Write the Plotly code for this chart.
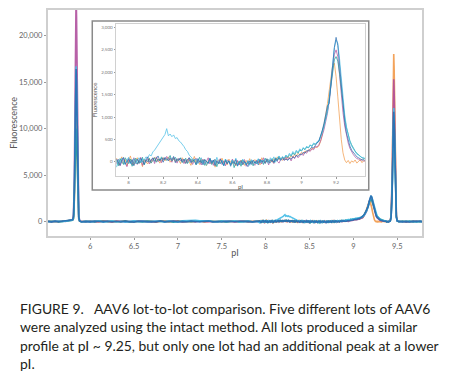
import plotly.graph_objects as go

# ---------------- data ----------------
LOT_NAMES = ["Lot A", "Lot B", "Lot C", "Lot D", "Lot E"]
LOT_COLORS = ["#f29a4a", "#b0509e", "#1a9e9a", "#46bde6", "#2b6cb0"]

# main-plot sampling left of the inset window
X_MAIN_L = [5.52, 5.56, 5.60, 5.64, 5.68, 5.72, 5.76, 5.79,
            5.80, 5.81, 5.815, 5.82, 5.825, 5.83, 5.835, 5.84, 5.845, 5.85, 5.855, 5.86, 5.865, 5.87, 5.88, 5.90,
            5.95, 6.00, 6.05, 6.10, 6.15, 6.20, 6.25, 6.30, 6.35, 6.40, 6.45, 6.50, 6.55, 6.60, 6.65, 6.70,
            6.75, 6.80, 6.85, 6.90, 6.95, 7.00, 7.05, 7.10, 7.15, 7.20, 7.25, 7.30, 7.35, 7.40, 7.45, 7.50,
            7.55, 7.60, 7.65, 7.70, 7.75, 7.80, 7.85, 7.90]

# inset window sampling (also used in the main plot)
X_INSET = [7.93, 7.94, 7.95, 7.96, 7.97, 7.98, 7.99, 8.00, 8.01, 8.02,
           8.03, 8.04, 8.05, 8.06, 8.07, 8.08, 8.09, 8.10, 8.11, 8.12,
           8.13, 8.14, 8.15, 8.16, 8.17, 8.18, 8.19, 8.20, 8.21, 8.22,
           8.23, 8.24, 8.25, 8.26, 8.27, 8.28, 8.29, 8.30, 8.31, 8.32,
           8.33, 8.34, 8.35, 8.36, 8.37, 8.38, 8.39, 8.40, 8.41, 8.42,
           8.43, 8.44, 8.45, 8.46, 8.47, 8.48, 8.49, 8.50, 8.51, 8.52,
           8.53, 8.54, 8.55, 8.56, 8.57, 8.58, 8.59, 8.60, 8.61, 8.62,
           8.63, 8.64, 8.65, 8.66, 8.67, 8.68, 8.69, 8.70, 8.71, 8.72,
           8.73, 8.74, 8.75, 8.76, 8.77, 8.78, 8.79, 8.80, 8.81, 8.82,
           8.83, 8.84, 8.85, 8.86, 8.87, 8.88, 8.89, 8.90, 8.91, 8.92,
           8.93, 8.94, 8.95, 8.96, 8.97, 8.98, 8.99, 9.00, 9.01, 9.02,
           9.03, 9.04, 9.05, 9.06, 9.07, 9.08, 9.09, 9.10, 9.11, 9.12,
           9.13, 9.14, 9.15, 9.16, 9.17, 9.18, 9.19, 9.20, 9.21, 9.22,
           9.23, 9.24, 9.25, 9.26, 9.27, 9.28, 9.29, 9.30, 9.31, 9.32,
           9.33, 9.34, 9.35, 9.36, 9.37]

# main-plot sampling right of the inset window
X_MAIN_R = [9.38, 9.40, 9.42, 9.43, 9.44, 9.445, 9.45, 9.455, 9.46, 9.465, 9.47, 9.475,
            9.48, 9.485, 9.49, 9.50, 9.52, 9.56, 9.60, 9.64, 9.68, 9.72, 9.76, 9.785]

ORANGE_L = [-20, 40, -50, 30, 0, 50, 90, 130,
            170, 330, 880, 2200, 4400, 7150, 9900, 11000, 9900, 7150, 4400, 2200, 880, 330, 40, 10,
            50, -20, 30, -40, 60, 10, -30, 40, -10, 70, -50, 20, 40, -20, 60, 30, -40, 10, 50, -30,
            20, 80, -10, 40, -20, 30, 60, -40, 10, 50, -20, 30, -50, 40, 10, -30, 60, -10, 20, 50]
MAGENTA_L = [30, -40, 20, -20, 50, 10, 120, 150,
             200, 740, 1960, 4900, 9800, 15900, 22000, 24500, 22000, 15900, 9800, 4900, 1960, 740, 100, 30,
             -30, 40, -60, 20, 50, -10, -50, 30, 60, -20, 10, -40, 40, 70, -30, 20, -60, 50, 0, 30,
             -20, 60, -40, 10, 40, -30, 80, -10, 20, -50, 30, 60, -20, 40, -40, 10, 50, -30, 20, -10]
TEAL_L = [40, -10, 30, -40, 20, 30, 100, 120,
          160, 300, 800, 2000, 4000, 6500, 9000, 10000, 9000, 6500, 4000, 2000, 800, 300, 40, -20,
          -10, 30, -40, 50, 20, -20, 40, -30, 10, 60, -50, 30, 0, -40, 50, 20, -20, 40, -10, 30,
          -60, 20, 50, 10, -30, 40, 70, 20, 50, -20, 10, 40, -30, 20, 50, -40, 10, 30, -20, 40]
CYAN_L = [-50, 30, -20, 60, -10, 40, 90, 60,
          150, 500, 1340, 3340, 6680, 10860, 15030, 16700, 15030, 10860, 6680, 3340, 1340, 500, 70, -20,
          40, -30, 20, 60, -50, 10, 50, -20, 30, -60, 20, 70, -10, 40, -40, 30, 60, 0, -30, 50,
          20, -40, 70, 100, 60, 130, 90, 40, 70, 20, -30, 50, -10, 30, 60, -40, 20, 50, -20, 40]
BLUE_L = [20, -30, 50, -10, 30, 60, 140, 110,
          180, 490, 1310, 3280, 6560, 10660, 14760, 16400, 14760, 10660, 6560, 3280, 1310, 490, 70, -40,
          20, -40, 50, 10, -30, 60, -20, 30, -50, 40, 0, -60, 30, 50, -10, -40, 20, 60, -30, 10,
          40, -50, 20, -20, 50, 10, -40, 30, 60, -20, 10, -50, 40, 0, -30, 50, -10, 20, -40, 30]

ORANGE_I = [80, -60, 20, 110, -40, 50, -90, 30, 130, -20,
            -70, 40, 90, -30, 10, -110, 60, 0, -50, 80,
            -20, 50, 100, 10, 70, -30, 40, 90, 20, 60,
            110, -10, 50, 80, 0, 60, 30, -40, 90, 20,
            -30, 60, 10, -80, 40, 120, -20, 30, -60, 70,
            -10, 50, -90, 20, 60, -40, 30, -120, 10, 40,
            -50, 80, -30, 20, -70, 60, -10, -40, 30, -90,
            10, -60, 40, -20, -80, 30, -50, 70, -30, 0,
            50, -40, 20, -70, 90, 10, -30, 60, -20, 40,
            -10, 70, 20, 110, 50, 80, 30, 90, 40, 120,
            70, 140, 100, 160, 130, 190, 150, 210, 180, 240,
            220, 270, 250, 300, 290, 330, 320, 350, 450, 600,
            800, 1050, 1300, 1600, 1950, 2150, 2200, 1900, 1450, 950,
            500, 200, 40, -20, 30, -40, 20, -10, 40, -30,
            10, 50, -20, 30, 0]
MAGENTA_I = [-40, 60, -90, 20, 80, -30, -110, 50, 10, -70,
             90, -20, -60, 40, 100, -80, 30, -10, 70, -50,
             20, 80, -40, 110, 0, 60, -20, 90, 40, 120,
             30, 70, -10, 100, 50, -30, 80, 20, 60, -40,
             50, -20, 90, 10, -60, 40, 80, -30, 20, -70,
             60, -40, 10, 90, -50, 30, -80, 50, 0, -30,
             70, -60, 20, -90, 40, 10, -50, 60, -20, -80,
             30, -70, 0, -40, 50, -100, 20, -60, 10, -30,
             -80, 40, -20, 60, -50, 90, -10, 30, -70, 50,
             20, -40, 80, 10, -30, 60, 100, 30, 110, 40,
             90, 20, 120, 70, 150, 90, 130, 180, 140, 220,
             190, 260, 230, 290, 270, 340, 330, 380, 460, 580,
             720, 900, 1080, 1350, 1720, 2100, 2400, 2500, 2350, 1950,
             1500, 1100, 800, 580, 420, 300, 220, 160, 110, 70,
             60, 30, 50, 10, 30]
TEAL_I = [30, -90, 70, -10, -60, 90, 20, -40, 60, -100,
          10, 80, -50, 30, -20, 100, -70, 50, 0, 70,
          -30, 40, 90, -10, 60, 20, 110, 50, 80, 30,
          70, 140, 20, 60, 100, 10, 50, 90, -20, 40,
          80, -40, 30, 70, -10, 50, -70, 20, 100, -30,
          40, -80, 10, -30, 70, -60, 20, 50, -110, 0,
          -40, 30, -90, 60, -20, 10, -70, 40, -130, -20,
          -60, 20, -100, 40, -30, -70, 10, -50, 30, -90,
          0, -50, 60, -20, 40, -60, 80, -10, 50, 10,
          70, -20, 90, 40, 120, 60, 100, 70, 140, 90,
          160, 120, 200, 150, 230, 190, 260, 240, 300, 270,
          330, 310, 370, 350, 400, 390, 430, 450, 560, 680,
          820, 980, 1150, 1400, 1700, 2050, 2280, 2350, 2250, 1980,
          1620, 1280, 980, 760, 600, 470, 380, 300, 240, 190,
          150, 120, 90, 70, 80]
CYAN_I = [-120, 50, -30, 80, 10, -70, 40, 100, -50, 20,
          70, -40, 30, 90, -20, 60, 40, 110, 80, 160,
          130, 220, 260, 320, 380, 430, 500, 560, 610, 740,
          580, 620, 560, 600, 520, 540, 470, 440, 400, 340,
          270, 230, 150, 100, 70, 30, 60, -40, 20, 90,
          -30, 50, -80, 10, 70, -20, 40, -60, 100, 0,
          -50, 30, -90, 60, -10, 20, -70, 40, -30, 80,
          -100, 10, -40, 60, -20, -60, 30, -80, 50, -20,
          10, -50, 70, -30, 40, -10, 60, 20, -40, 90,
          30, 110, -10, 70, 130, 50, 120, 80, 150, 110,
          190, 140, 230, 180, 260, 210, 290, 250, 320, 280,
          350, 310, 380, 340, 420, 390, 450, 470, 540, 640,
          780, 950, 1120, 1380, 1750, 2200, 2550, 2720, 2650, 2300,
          1850, 1400, 1050, 780, 600, 450, 350, 280, 220, 170,
          150, 110, 90, 100, 60]
BLUE_I = [60, -20, -80, 40, 100, -50, 10, 70, -30, 50,
          -90, 20, 60, -40, 80, 0, -60, 40, 110, -10,
          50, 90, 10, 70, 130, 30, 80, -10, 100, 60,
          20, 90, 50, 120, -20, 70, 30, 80, 0, 60,
          -40, 40, 90, -20, 50, 10, -60, 70, -10, 30,
          -70, 50, 0, -40, 80, -20, 40, -90, 20, -50,
          60, -30, -80, 30, -50, 20, -100, 0, -40, 50,
          -90, -20, 30, -70, 10, -40, -110, 20, -60, 40,
          -30, 20, -70, 50, -10, 30, -40, 70, 0, -20,
          40, -10, 60, 20, 90, 30, 70, 40, 60, 30,
          80, 60, 110, 90, 140, 120, 170, 160, 210, 190,
          250, 240, 300, 330, 310, 380, 420, 460, 560, 700,
          860, 1050, 1250, 1300, 1650, 2150, 2550, 2780, 2600, 2150,
          1650, 1200, 880, 640, 470, 350, 260, 200, 150, 110,
          90, 60, 40, 50, 20]

ORANGE_R = [20, -40, 80, 720, 3600, 7200, 11700, 16200, 18000, 16200, 11700, 7200,
            3600, 1620, 720, 90, 30, -50, 40, -30, 60, -20, 30, 0]
MAGENTA_R = [-30, 50, 60, 610, 3060, 6120, 9950, 13770, 15300, 13770, 9950, 6120,
             3060, 1380, 610, 80, -40, 30, -60, 20, -30, 50, -20, 40]
TEAL_R = [-50, 30, 40, 460, 2280, 4560, 7410, 10260, 11400, 10260, 7410, 4560,
          2280, 1030, 460, 60, -30, 50, -20, 40, -40, 20, -30, 30]
CYAN_R = [40, -20, 50, 490, 2440, 4880, 7930, 10980, 12200, 10980, 7930, 4880,
          2440, 1100, 490, 60, 20, -40, 50, -10, 30, -50, 40, -20]
BLUE_R = [10, -60, 50, 470, 2360, 4720, 7670, 10620, 11800, 10620, 7670, 4720,
          2360, 1060, 470, 60, 40, -30, 20, -50, 40, -10, 50, -40]

MAIN_X_TICKS = [6, 6.5, 7, 7.5, 8, 8.5, 9, 9.5]
MAIN_X_LABELS = ["6", "6.5", "7", "7.5", "8", "8.5", "9", "9.5"]
MAIN_Y_TICKS = [0, 5000, 10000, 15000, 20000]
MAIN_Y_LABELS = ["0", "5,000", "10,000", "15,000", "20,000"]
INSET_X_TICKS = [8, 8.2, 8.4, 8.6, 8.8, 9, 9.2]
INSET_X_LABELS = ["8", "8.2", "8.4", "8.6", "8.8", "9", "9.2"]
INSET_Y_TICKS = [0, 500, 1000, 1500, 2000, 2500, 3000]
INSET_Y_LABELS = ["0", "500", "1,000", "1,500", "2,000", "2,500", "3,000"]

CAPTION = [
    "FIGURE 9.\u00a0\u00a0\u00a0AAV6 lot-to-lot comparison. Five different lots of AAV6",
    "were analyzed using the intact method. All lots produced a similar",
    "profile at pI ~ 9.25, but only one lot had an additional peak at a lower",
    "pI.",
]

# ---------------- figure ----------------
# the page body has an 8 px margin, so the figure is 8 px smaller and
# window pixel positions are converted with that offset
OFF = 8
W, H = 450 - OFF, 378 - OFF
FONT = "Lato, 'Open Sans', sans-serif"


def fx(p):
    return min(max((p - OFF) / W, 0.0), 1.0)


def fy(p):
    return min(max(1 - (p - OFF) / H, 0.0), 1.0)


left = [ORANGE_L, MAGENTA_L, TEAL_L, CYAN_L, BLUE_L]
inset = [ORANGE_I, MAGENTA_I, TEAL_I, CYAN_I, BLUE_I]
right = [ORANGE_R, MAGENTA_R, TEAL_R, CYAN_R, BLUE_R]

fig = go.Figure()
x_main = X_MAIN_L + X_INSET + X_MAIN_R
for name, col, l, m, r in zip(LOT_NAMES, LOT_COLORS, left, inset, right):
    fig.add_trace(go.Scatter(x=x_main, y=l + m + r, mode="lines", name=name,
                             line=dict(color=col, width=1.6), opacity=0.9,
                             xaxis="x", yaxis="y", showlegend=False))
for name, col, m in zip(LOT_NAMES, LOT_COLORS, inset):
    fig.add_trace(go.Scatter(x=X_INSET, y=m, mode="lines", name=name,
                             line=dict(color=col, width=0.8), opacity=0.9,
                             xaxis="x2", yaxis="y2", showlegend=False))

axis_common = dict(showgrid=False, zeroline=False, showline=True, mirror=True,
                   ticks="outside", tickcolor="#9a9a9a")

fig.update_layout(
    width=W, height=H, autosize=False,
    margin=dict(l=0, r=0, t=0, b=0),
    paper_bgcolor="white", plot_bgcolor="white",
    font=dict(family=FONT, color="#555555"),
    xaxis=dict(domain=[fx(44), fx(422)], range=[5.516, 9.785], anchor="y",
               tickvals=MAIN_X_TICKS, ticktext=MAIN_X_LABELS, ticklen=2,
               linecolor="#cfcfcf", linewidth=1.5,
               tickfont=dict(size=7.5, color="#666666"),
               title=dict(text="pI", font=dict(size=9, color="#555555"), standoff=0),
               **axis_common),
    yaxis=dict(domain=[fy(235), fy(8)], range=[-1530, 22740], anchor="x",
               tickvals=MAIN_Y_TICKS, ticktext=MAIN_Y_LABELS, ticklen=2,
               linecolor="#cfcfcf", linewidth=1.5,
               tickfont=dict(size=7.5, color="#666666"),
               title=dict(text="Fluorescence", font=dict(size=9, color="#555555"), standoff=5),
               **axis_common),
    xaxis2=dict(domain=[fx(113), fx(364)], range=[7.927, 9.366], anchor="y2",
                tickvals=INSET_X_TICKS, ticktext=INSET_X_LABELS, ticklen=1.5,
                linecolor="#d0d0d0", linewidth=1,
                tickfont=dict(size=4.5, color="#777777"),
                title=dict(text="pI", font=dict(size=6, color="#555555"), standoff=0),
                **axis_common),
    yaxis2=dict(domain=[fy(175), fy(22)], range=[-320, 3080], anchor="x2",
                tickvals=INSET_Y_TICKS, ticktext=INSET_Y_LABELS, ticklen=1.5,
                linecolor="#d0d0d0", linewidth=1,
                tickfont=dict(size=4.5, color="#777777"),
                title=dict(text="Fluorescence", font=dict(size=6, color="#555555"), standoff=3),
                **axis_common),
)

# inset outer frame
fig.add_shape(type="rect", xref="paper", yref="paper",
              x0=fx(89), x1=fx(368), y0=fy(189), y1=fy(19),
              line=dict(color="#8a8a8a", width=1.5), fillcolor="rgba(0,0,0,0)", layer="above")

# caption
for i, line in enumerate(CAPTION):
    fig.add_annotation(text=line, xref="paper", yref="paper",
                       x=fx(14), y=fy(308 + i * 18.5), xanchor="left", yanchor="middle",
                       showarrow=False, align="left",
                       font=dict(family=FONT, size=13.9, color="#231f20"))

fig.write_html("out.html")
